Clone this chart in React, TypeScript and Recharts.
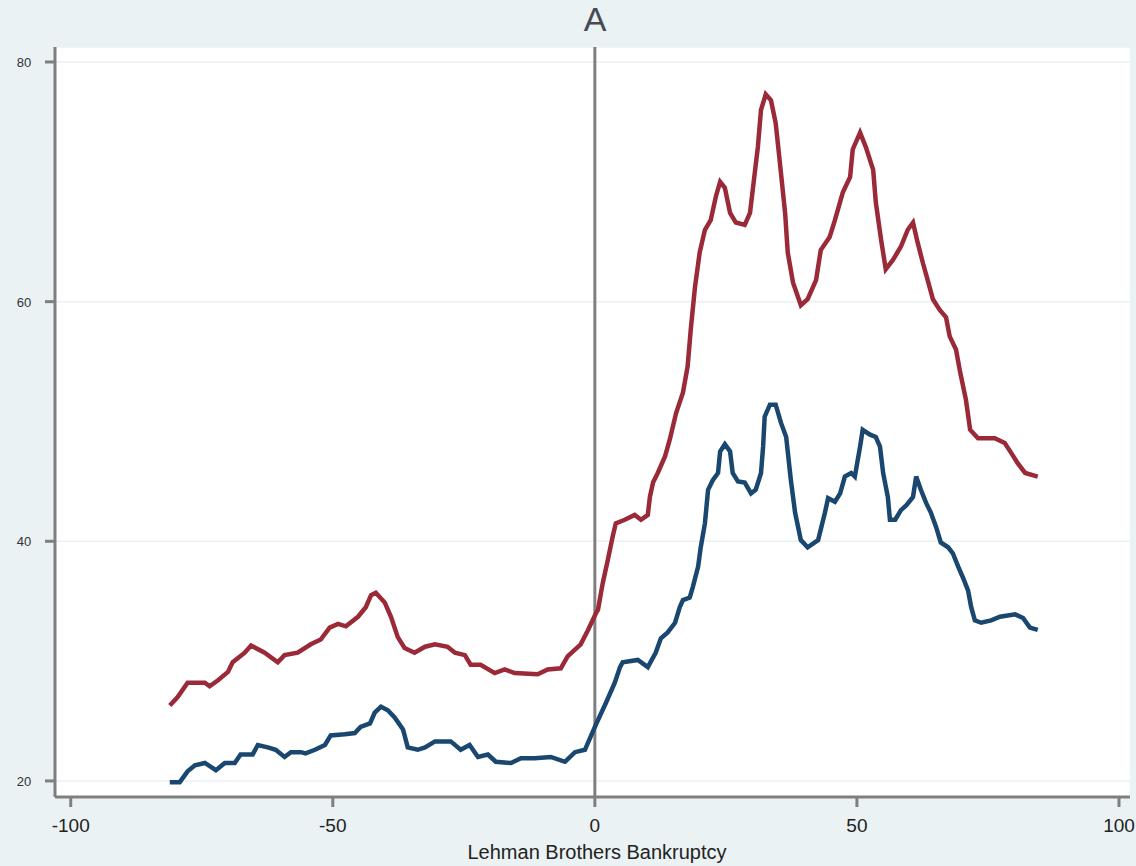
import React from 'react';
import { LineChart, Line, XAxis, YAxis, CartesianGrid, ReferenceLine } from 'recharts';

// days relative to Lehman Brothers bankruptcy
const redDays = [
  -81.1, -79.6, -77.7, -74.4, -73.5, -71.9, -70.0, -69.1, -66.8, -65.6, -63.0, -60.5, -59.2, -56.7,
  -54.2, -52.3, -50.6, -49.0, -47.5, -45.2, -43.7, -42.7, -41.8, -40.1, -38.9, -37.6, -36.3, -34.4,
  -32.4, -30.5, -28.1, -26.7, -24.8, -23.7, -21.8, -19.1, -17.2, -15.3, -10.9, -9.0, -6.5, -5.2,
  -2.7, -1.3, 0.2, 0.6, 1.5, 2.5, 3.4, 4.0, 5.7, 7.6, 8.8, 10.1, 10.5, 11.1, 12.0, 13.4, 14.3,
  15.5, 16.8, 17.7, 18.3, 19.1, 20.0, 21.0, 22.1, 23.1, 23.9, 24.8, 25.8, 26.9, 28.6, 29.6, 30.2,
  31.1, 31.7, 32.6, 33.6, 34.5, 35.3, 36.3, 36.8, 37.8, 39.3, 40.6, 42.2, 43.1, 44.8, 45.8, 47.3,
  48.7, 49.2, 50.6, 51.7, 53.1, 53.6, 54.6, 55.5, 56.9, 58.4, 59.7, 60.7, 61.6, 62.6, 63.5, 64.5,
  65.8, 67.0, 67.7, 68.9, 69.7, 70.8, 71.6, 73.1, 76.3, 78.2, 79.4, 80.7, 82.1, 84.5,
];
const redValues = [
  26.3, 27.0, 28.2, 28.2, 27.9, 28.4, 29.1, 29.9, 30.7, 31.3, 30.7, 29.9, 30.5, 30.7,
  31.4, 31.8, 32.8, 33.1, 32.9, 33.7, 34.5, 35.5, 35.7, 34.9, 33.7, 32.0, 31.1, 30.7,
  31.2, 31.4, 31.2, 30.7, 30.5, 29.7, 29.7, 29.0, 29.3, 29.0, 28.9, 29.3, 29.4, 30.4,
  31.4, 32.6, 34.0, 34.3, 36.5, 38.5, 40.4, 41.5, 41.8, 42.2, 41.8, 42.2, 43.7, 44.9, 45.7, 47.1, 48.5,
  50.7, 52.4, 54.6, 57.7, 61.2, 64.1, 66.0, 66.8, 68.8, 70.0, 69.5, 67.4, 66.6, 66.4, 67.4, 69.6,
  72.9, 76.0, 77.3, 76.8, 74.9, 71.6, 67.4, 64.1, 61.6, 59.7, 60.2, 61.8, 64.3, 65.4, 66.8, 69.1,
  70.4, 72.7, 74.1, 72.9, 71.0, 68.3, 65.2, 62.7, 63.5, 64.6, 66.0, 66.6, 64.9, 63.2, 61.8, 60.2,
  59.3, 58.7, 57.1, 56.0, 54.1, 51.8, 49.3, 48.6, 48.6, 48.2, 47.4, 46.5, 45.7, 45.4,
];

const blueDays = [
  -81.1, -79.2, -77.7, -76.3, -74.4, -72.3, -70.6, -68.7, -67.6, -65.3, -64.3, -62.4, -60.9, -59.2,
  -58.0, -56.1, -55.2, -53.4, -51.5, -50.4, -47.7, -45.8, -44.7, -42.9, -42.0, -40.8, -39.5, -38.2,
  -36.6, -35.7, -33.8, -32.4, -30.5, -27.5, -25.6, -23.9, -22.3, -20.4, -18.9, -16.0, -14.1, -11.5,
  -8.4, -5.7, -3.8, -1.9, -0.8, 0.2, 2.1, 3.8, 4.8, 5.3, 8.2, 10.1, 11.6, 12.6, 13.9, 15.3, 16.2,
  16.8, 18.1, 18.7, 19.7, 20.2, 21.0, 21.6, 22.5, 23.5, 23.9, 24.8, 25.8, 26.3, 27.3, 28.6, 29.8,
  30.7, 31.7, 32.1, 32.4, 33.4, 34.5, 35.5, 36.5, 37.4, 38.2, 39.3, 40.6, 42.6, 43.9, 44.5, 45.8,
  46.8, 47.7, 48.9, 49.6, 50.6, 51.1, 52.5, 53.6, 54.4, 55.0, 55.9, 56.3, 57.3, 58.4, 59.4, 60.7,
  61.3, 62.2, 63.2, 64.1, 65.1, 66.0, 67.4, 68.3, 69.3, 70.2, 71.2, 71.8, 72.5, 73.7, 75.6, 77.3,
  80.2, 81.7, 83.0, 84.5,
];
const blueValues = [
  19.9, 19.9, 20.8, 21.3, 21.5, 20.9, 21.5, 21.5, 22.2, 22.2, 23.0, 22.8, 22.6, 22.0,
  22.4, 22.4, 22.3, 22.6, 23.0, 23.8, 23.9, 24.0, 24.5, 24.8, 25.7, 26.2, 25.9, 25.3,
  24.3, 22.8, 22.6, 22.8, 23.3, 23.3, 22.6, 23.0, 22.0, 22.2, 21.6, 21.5, 21.9, 21.9,
  22.0, 21.6, 22.4, 22.6, 23.7, 24.7, 26.5, 28.2, 29.5, 29.9, 30.1, 29.5, 30.7, 31.9, 32.4, 33.2, 34.5,
  35.1, 35.3, 36.2, 37.9, 39.5, 41.5, 44.3, 45.1, 45.7, 47.5, 48.1, 47.5, 45.7, 45.0, 44.9, 44.0,
  44.3, 45.7, 47.9, 50.4, 51.4, 51.4, 49.9, 48.7, 45.1, 42.4, 40.1, 39.5, 40.1, 42.4, 43.6, 43.3,
  44.0, 45.4, 45.7, 45.4, 47.9, 49.3, 48.9, 48.7, 47.9, 45.7, 43.7, 41.8, 41.8, 42.6, 43.0, 43.7,
  45.4, 44.3, 43.2, 42.4, 41.2, 39.9, 39.5, 39.0, 37.9, 37.0, 35.9, 34.5, 33.4, 33.2, 33.4, 33.7,
  33.9, 33.6, 32.8, 32.6,
];

const xTicks = [-100, -50, 0, 50, 100];
const yTicks = [20, 40, 60, 80];

const redData = redDays.map((d, i) => ({ day: d, value: redValues[i] }));
const blueData = blueDays.map((d, i) => ({ day: d, value: blueValues[i] }));

const font = "'Liberation Sans', Arial, sans-serif";

const YTick = (props: any) => {
  const { y, payload } = props;
  return (
    <text x={24} y={y} dy={5} textAnchor="middle" fontSize={13} fill="#333" fontFamily={font}>
      {payload.value}
    </text>
  );
};

export default function App() {
  return (
    <div style={{ position: 'absolute', left: 0, top: 0, width: 1136, height: 866, background: '#eaf2f3' }}>
      <div
        style={{
          position: 'absolute', left: 495, top: 2, width: 200, textAlign: 'center',
          fontFamily: font, fontSize: 34, lineHeight: '34px', color: '#474a55',
        }}
      >
        A
      </div>
      <LineChart width={1136} height={866} margin={{ top: 47, right: 6, left: 0, bottom: 0 }}>
        <CartesianGrid fill="#ffffff" stroke="#eaf2f3" strokeWidth={1.5} vertical={false} />
        <XAxis
          type="number"
          dataKey="day"
          domain={[-103, 102.1]}
          ticks={xTicks}
          allowDataOverflow
          height={69}
          stroke="#7f7f7f"
          strokeWidth={3}
          tickSize={10}
          tickMargin={12}
          tick={{ fontSize: 19, fill: '#222', fontFamily: font }}
        />
        <YAxis
          type="number"
          domain={[18.66, 81.25]}
          ticks={yTicks}
          allowDataOverflow
          width={55}
          stroke="#7f7f7f"
          strokeWidth={3}
          tickSize={10}
          tick={<YTick />}
        />
        <ReferenceLine x={0} stroke="#7f7f7f" strokeWidth={3} />
        <Line
          data={redData}
          dataKey="value"
          type="linear"
          stroke="#9b2a38"
          strokeWidth={4.5}
          dot={false}
          isAnimationActive={false}
        />
        <Line
          data={blueData}
          dataKey="value"
          type="linear"
          stroke="#1a476f"
          strokeWidth={4.5}
          dot={false}
          isAnimationActive={false}
        />
      </LineChart>
      <div
        style={{
          position: 'absolute', left: 297, top: 842, width: 600, textAlign: 'center',
          fontFamily: font, fontSize: 20, lineHeight: '20px', color: '#222',
        }}
      >
        Lehman Brothers Bankruptcy
      </div>
    </div>
  );
}
